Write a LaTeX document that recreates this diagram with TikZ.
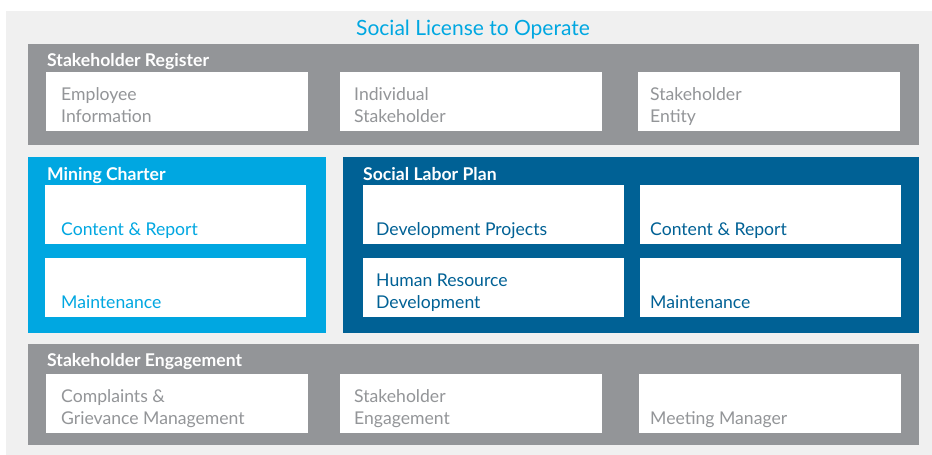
\documentclass[tikz,border=0pt]{standalone}
\usepackage{fontspec}
\setmainfont{Lato}
\usetikzlibrary{positioning}
\definecolor{slgray}{HTML}{939598}
\definecolor{slcyan}{HTML}{00A7E1}
\definecolor{slblue}{HTML}{006195}
\definecolor{slback}{HTML}{F0F0F0}
\tikzset{
  band/.style={anchor=north west,inner sep=0pt,outer sep=0pt},
  box/.style={fill=white,anchor=north west,inner sep=0pt,outer sep=0pt,minimum width=262,minimum height=59},
  head/.style={anchor=base west,inner sep=0pt,text=white,font=\fontsize{17.6}{21}\selectfont\bfseries},
  lbl/.style={anchor=base west,inner sep=0pt,align=left,font=\fontsize{17.6}{22}\selectfont,text=#1}
}

\begin{document}
\begin{tikzpicture}[x=1pt,y=-1pt]
\useasboundingbox (0,0) rectangle (932,455);
\fill[slback] (6,11) rectangle (932,455);
\node[anchor=base,inner sep=0pt,text=slcyan,font=\fontsize{21}{25}\selectfont] (T) at (473,35.5) {Social License to Operate};
% stakeholder register
\node[band,fill=slgray,minimum width=891,minimum height=101] (SR) at (28,44) {};
\node[head] (SRh) at (47,66) {Stakeholder Register};
\node[box] (SRa) at (46,72) {};
\node[box] (SRb) at (340,72) {};
\node[box] (SRc) at (638,72) {};
\node[lbl=slgray] at ([shift={(15pt,9pt)}]SRa.south west) {Employee\\Information};
\node[lbl=slgray] at ([shift={(14pt,9pt)}]SRb.south west) {Individual\\Stakeholder};
\node[lbl=slgray] at ([shift={(12pt,9pt)}]SRc.south west) {Stakeholder\\Entity};
% mining charter
\node[band,fill=slcyan,minimum width=298,minimum height=176] (MC) at (28,157) {};
\node[head] (MCh) at (47,180) {Mining Charter};
\node[box,minimum width=261] (MCa) at (45,185) {};
\node[box,minimum width=261] (MCb) at (45,258) {};
\node[lbl=slcyan] at ([shift={(16pt,9pt)}]MCa.south west) {Content \& Report};
\node[lbl=slcyan] at ([shift={(16pt,9pt)}]MCb.south west) {Maintenance};
% social labor plan
\node[band,fill=slblue,minimum width=576,minimum height=176] (SLP) at (343,157) {};
\node[head] (SLPh) at (363,180) {Social Labor Plan};
\node[box,minimum width=261] (SLPa) at (363,185) {};
\node[box,minimum width=261] (SLPb) at (640,185) {};
\node[box,minimum width=261] (SLPc) at (363,258) {};
\node[box,minimum width=261] (SLPd) at (640,258) {};
\node[lbl=slblue] at ([shift={(13pt,9pt)}]SLPa.south west) {Development Projects};
\node[lbl=slblue] at ([shift={(10pt,9pt)}]SLPb.south west) {Content \& Report};
\node[lbl=slblue] at ([shift={(13pt,9pt)}]SLPc.south west) {Human Resource\\Development};
\node[lbl=slblue] at ([shift={(10pt,9pt)}]SLPd.south west) {Maintenance};
% stakeholder engagement
\node[band,fill=slgray,minimum width=891,minimum height=101] (SE) at (28,344) {};
\node[head] (SEh) at (47,366) {Stakeholder Engagement};
\node[box] (SEa) at (46,374) {};
\node[box] (SEb) at (340,374) {};
\node[box] (SEc) at (639,374) {};
\node[lbl=slgray] at ([shift={(15pt,9pt)}]SEa.south west) {Complaints \&\\Grievance Management};
\node[lbl=slgray] at ([shift={(14pt,9pt)}]SEb.south west) {Stakeholder\\Engagement};
\node[lbl=slgray] at ([shift={(11pt,9pt)}]SEc.south west) {Meeting Manager};
\end{tikzpicture}
\end{document}
